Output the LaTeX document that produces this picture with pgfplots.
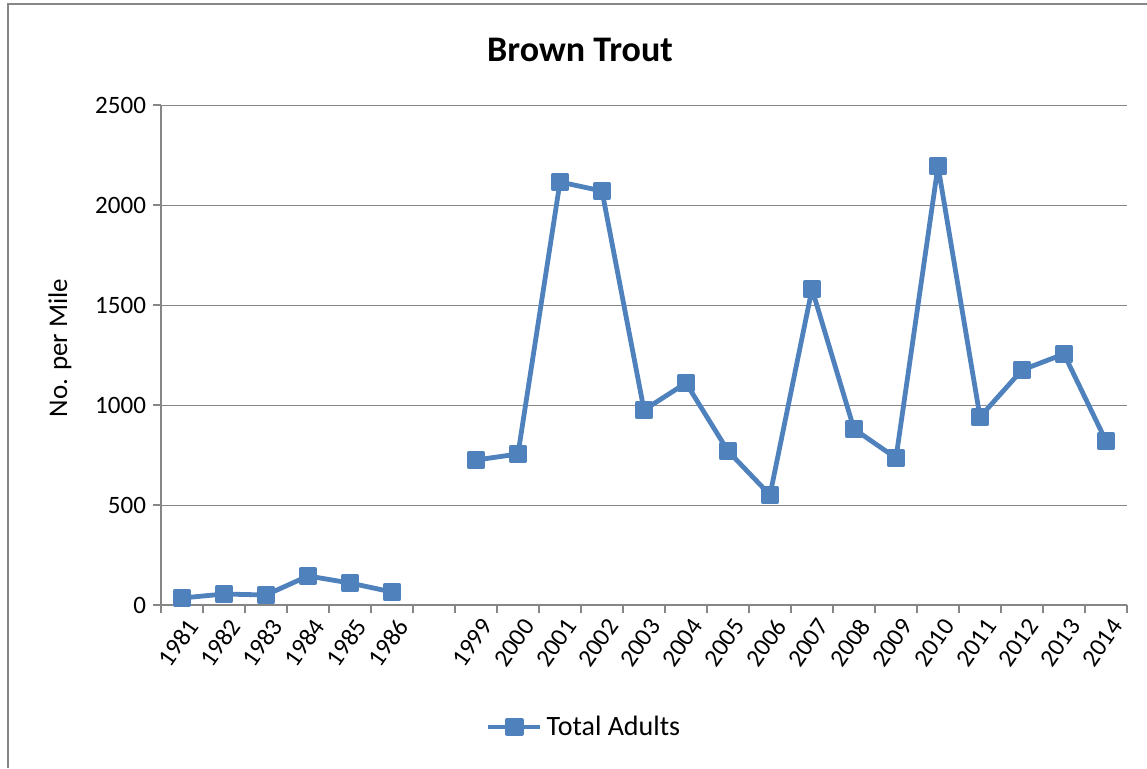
\documentclass[border=0pt]{standalone}
\usepackage{pgfplots}
\pgfplotsset{compat=1.18}
\usepackage{fontspec}
\setmainfont{Carlito}
\definecolor{xlblue}{HTML}{4F81BD}
\definecolor{xlgrid}{HTML}{868686}
\begin{document}
\begin{tikzpicture}
\useasboundingbox (0,0) rectangle (573.5pt,384pt);
\draw[xlgrid, line width=1pt] (4pt,0) -- (4pt,382pt) -- (573.5pt,382pt);
\node[font=\fontsize{18}{20}\selectfont\bfseries] at (290pt,359pt) {Brown Trout};
\node[font=\fontsize{13.5}{15}\selectfont, rotate=90] at (30pt,210pt) {No. per Mile};
\begin{axis}[
  at={(80.5pt,81.5pt)}, anchor=south west,
  scale only axis, width=483pt, height=250pt,
  xmin=-0.5, xmax=22.5, ymin=0, ymax=2500,
  axis lines*=left, axis line style={xlgrid, line width=0.6pt, -},
  ytick={0,500,...,2500},
  ymajorgrids, major grid style={xlgrid, line width=0.5pt},
  xtick={0,...,22},
  xticklabels={1981,1982,1983,1984,1985,1986,,1999,2000,2001,2002,2003,2004,2005,2006,2007,2008,2009,2010,2011,2012,2013,2014},
  minor xtick={-0.5,0.5,...,22.5},
  major x tick style={draw=none},
  tick align=outside, tick style={xlgrid, line width=0.6pt},
  major tick length=4pt, minor tick length=4pt,
  /pgf/number format/assume math mode=true,
  /pgf/number format/1000 sep={},
  yticklabel style={font=\fontsize{12.5}{14}\selectfont},
  xticklabel style={font=\fontsize{12.5}{14}\selectfont, rotate=55, anchor=east, yshift=-7pt, xshift=3pt},
  unbounded coords=jump,
  legend style={at={(0.439,-0.244)}, anchor=center, draw=none,
    font=\fontsize{14}{16}\selectfont},
  legend image code/.code={\draw[mark repeat=2,mark phase=2] plot coordinates {(0pt,0pt)(13pt,0pt)(26pt,0pt)};},
]
\addplot[xlblue, line width=2.4pt, line join=round, mark=square*, mark size=3.5pt, mark options={solid}]
  table[x=x, y=y] {
x y
0 35
1 55
2 50
3 145
4 110
5 65
6 nan
7 725
8 755
9 2115
10 2070
11 975
12 1110
13 770
14 550
15 1580
16 880
17 735
18 2195
19 940
20 1175
21 1255
22 820
};
\legend{Total Adults}
\end{axis}
\end{tikzpicture}
\end{document}
